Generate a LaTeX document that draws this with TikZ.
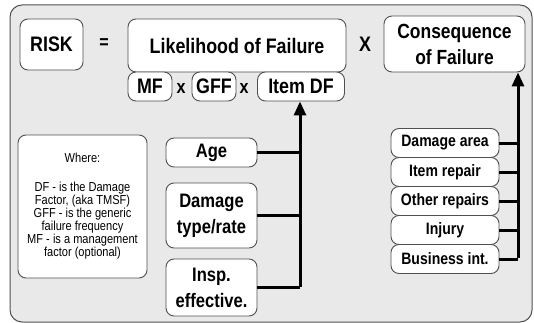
\documentclass[tikz,border=0pt]{standalone}
\usepackage{fontspec}
\setmainfont{Liberation Sans}[FakeStretch=0.85]
\usetikzlibrary{arrows.meta}
\definecolor{bggray}{HTML}{E9E9E9}
\definecolor{edgegray}{HTML}{505050}
\begin{document}
\begin{tikzpicture}[x=1pt,y=-1pt,
  rbox/.style={draw=edgegray, line width=0.9pt, fill=white, rounded corners=8pt, inner sep=0pt, align=center, font=\bfseries},
  big/.style={font=\fontsize{21}{24}\selectfont\bfseries},
  fac/.style={font=\fontsize{21}{24}\selectfont\bfseries},
  mid/.style={font=\fontsize{19.5}{26}\selectfont\bfseries},
  small/.style={font=\fontsize{16.5}{18}\selectfont\bfseries},
  op/.style={inner sep=0pt, font=\fontsize{19}{20}\selectfont\bfseries},
  conn/.style={line width=3pt, black},
  arr/.style={conn, -{Triangle[length=14pt,width=12pt]}}
]
\useasboundingbox (0,0) rectangle (534,323);
\draw[draw=edgegray, line width=1pt, fill=bggray, rounded corners=12pt] (10,5) rectangle (532,322);

% top row
\node[rbox, big, minimum width=218pt, minimum height=53pt] (lof) at (237,45.5) {Likelihood of Failure};
\node[rbox, big, minimum width=63pt, minimum height=51pt] (risk) at (51.5,44.5) {RISK};
\node[op] (eq) at (104,44) {=};
\node[op, font=\fontsize{21}{22}\selectfont\bfseries] (times) at (365,44) {X};
\node[rbox, font=\fontsize{20.5}{26}\selectfont\bfseries, minimum width=141pt, minimum height=56pt] (cof) at (454.5,44) {Consequence\\of Failure};

% factors
\node[rbox, fac, minimum width=44pt, minimum height=29pt] (mf) at (150,86.5) {MF};
\node[op] (x1) at (181,88) {x};
\node[rbox, fac, minimum width=44pt, minimum height=29pt] (gff) at (214,86.5) {GFF};
\node[op] (x2) at (244,88) {x};
\node[rbox, fac, minimum width=87pt, minimum height=29pt] (idf) at (301,86.5) {Item DF};

% left inputs
\node[rbox, mid, minimum width=91pt, minimum height=29pt] (age) at (211.5,152.5) {Age};
\node[rbox, mid, minimum width=91pt, minimum height=65pt] (dmg) at (211.5,215.5) {Damage\\type/rate};
\node[rbox, mid, minimum width=91pt, minimum height=57pt] (insp) at (211.5,287.5) {Insp.\\effective.};

% legend
\node[rbox, font=\fontsize{13}{13}\selectfont, minimum width=129pt, minimum height=143pt] (where) at (82.5,206.5)
  {Where:\\[16pt]DF - is the Damage\\Factor, (aka TMSF)\\GFF - is the generic\\failure frequency\\MF - is a management\\factor (optional)};

% right inputs
\node[rbox, small, minimum width=108pt, minimum height=29pt] (darea) at (445,143) {Damage area};
\node[rbox, small, minimum width=108pt, minimum height=29pt] (irep) at (445,172) {Item repair};
\node[rbox, small, minimum width=108pt, minimum height=29pt] (orep) at (445,201) {Other repairs};
\node[rbox, small, minimum width=108pt, minimum height=29pt] (inj) at (445,230) {Injury};
\node[rbox, small, minimum width=108pt, minimum height=29pt] (bint) at (445,259) {Business int.};

% connectors left
\coordinate (jl) at (300,288);
\draw[conn] (age.east) -- (age.east -| jl);
\draw[conn] (dmg.east) -- (dmg.east -| jl);
\draw[conn] (insp.east) -- (insp.east -| jl);
\draw[arr] ([yshift=1.5pt]jl) -- (jl |- idf.south);

% connectors right
\coordinate (jr) at (518,259);
\draw[conn] (darea.east) -- (darea.east -| jr);
\draw[conn] (irep.east) -- (irep.east -| jr);
\draw[conn] (orep.east) -- (orep.east -| jr);
\draw[conn] (inj.east) -- (inj.east -| jr);
\draw[conn] (bint.east) -- (bint.east -| jr);
\draw[arr] ([yshift=1.5pt]jr) -- (jr |- cof.south);
\end{tikzpicture}
\end{document}
